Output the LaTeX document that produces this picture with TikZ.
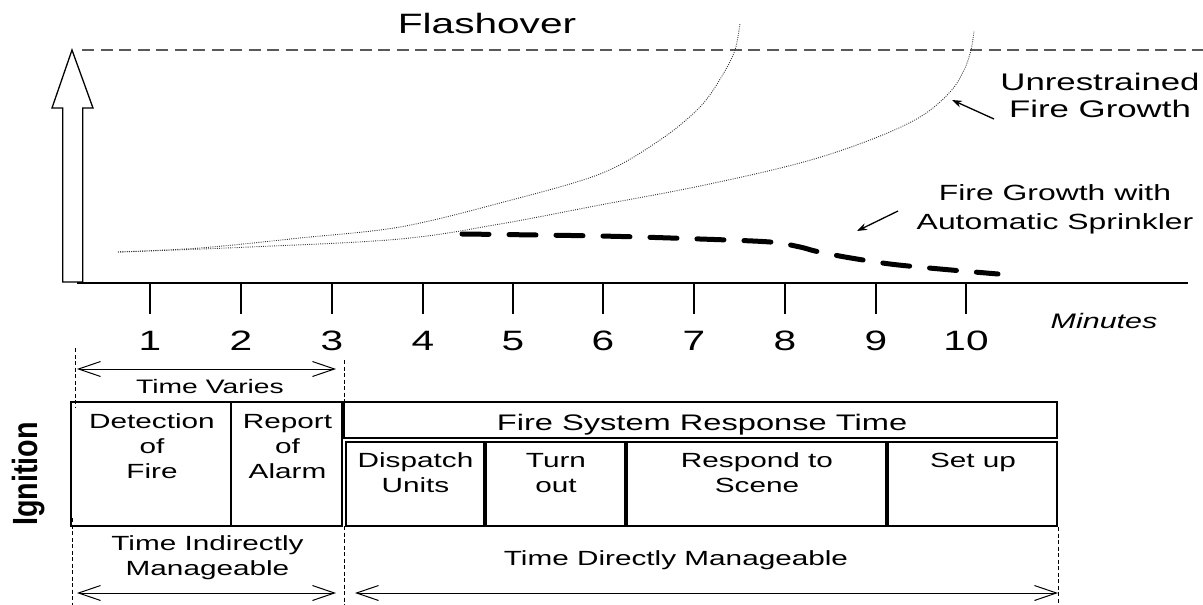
\documentclass[tikz,border=0pt]{standalone}
\usepackage{fontspec}
\setmainfont{Liberation Sans}[FakeStretch=1.45]
\newfontfamily\ignfont{Liberation Sans}[FakeStretch=0.82]
\usetikzlibrary{arrows.meta}
\begin{document}
\begin{tikzpicture}[x=1pt,y=-1pt,
  txt/.style={inner sep=0pt, align=center, anchor=base},
  fbig/.style={font=\fontsize{28}{32}\selectfont},
  fbox/.style={font=\fontsize{20.5}{25}\selectfont},
  boxline/.style={draw=black, line width=1.2pt},
  tickline/.style={line width=1.3pt},
  vdash/.style={line width=1pt, dash pattern=on 4pt off 2.5pt},
  dotcurve/.style={line width=0.9pt, draw=black!80, dash pattern=on 0.9pt off 1.3pt},
  sprink/.style={line width=5pt, line cap=round, dash pattern=on 27pt off 20pt},
  span/.style={line width=1pt, {Straight Barb[length=22pt,width=15pt]}-{Straight Barb[length=22pt,width=15pt]}},
  note/.style={line width=1.3pt, -{Stealth[length=10pt,width=7pt]}}]
\useasboundingbox (0,0) rectangle (1203,605);

% flashover level
\draw[line width=1.8pt, draw=black!65, dash pattern=on 12pt off 6.5pt] (82,50) -- (1203,50);
\node[txt, fbig] (flash) at (487,34) {Flashover};

% hollow arrow
\draw[line width=1.3pt, line join=miter] (62.7,282) -- (62.7,108) -- (52,108) -- (72,50) -- (93,108) -- (82.7,108) -- (82.7,282) -- cycle;

% axis and ticks
\draw[tickline] (77,283) -- (1188,283);
\foreach \x/\n in {150/1,241/2,332/3,423/4,513/5,603/6,694/7,785/8,876/9,966/10}{
  \draw[tickline] (\x,283) -- (\x,314);
  \node[txt, fbig] (n\n) at (\x,350) {\n};
}
\node[txt, font=\fontsize{21}{24}\selectfont\itshape] (minutes) at (1104,328) {Minutes};

% growth curves
\draw[dotcurve] plot[smooth, tension=0.55] coordinates {(118,252) (200,248) (300,238) (400,227) (500,203) (600,174) (660,140) (700,107) (722,76) (735,50) (740,23)};
\draw[dotcurve] plot[smooth, tension=0.6] coordinates {(118,252) (250,247) (400,239) (500,224) (600,205) (700,186) (800,163) (870,140) (920,117) (950,92) (964,70) (971,50) (974,31)};
\draw[sprink] plot[smooth, tension=0.5] coordinates {(462,234) (600,236) (700,239) (770,242) (800,247) (815,251) (845,257) (890,264) (940,269) (998,274)};

% annotations
\node[txt, font=\fontsize{24}{27}\selectfont] (unr) at (1100,117) {Unrestrained\\Fire Growth};
\node[txt, font=\fontsize{22}{29}\selectfont] (spr) at (1055,229) {Fire Growth with\\Automatic Sprinkler};
\coordinate (ua0) at (994,119); \coordinate (ua1) at (952,100);
\coordinate (sa0) at (898,211); \coordinate (sa1) at (857,231);
\draw[note] (ua0) -- (ua1);
\draw[note] (sa0) -- (sa1);

% time varies
\coordinate (tv0) at (77,369); \coordinate (tv1) at (336,369);
\draw[span] (tv0) -- (tv1);
\node[txt, font=\fontsize{19.5}{24}\selectfont] (varies) at (210,393) {Time Varies};

% dashed verticals
\draw[vdash] (75,348) -- (75,408);
\draw[vdash] (344.5,360) -- (344.5,402);
\draw[vdash] (344.5,526) -- (344.5,605);
\draw[vdash] (72.5,518) -- (72.5,605);
\draw[vdash] (1058.5,527) -- (1058.5,605);

% boxes
\draw[boxline] (71,402) rectangle (342,526);
\draw[boxline] (231,402) -- (231,526);
\draw[boxline] (344,402) rectangle (1057,438);
\draw[boxline] (346,442) rectangle (484,526);
\draw[boxline] (486,442) rectangle (625,526);
\draw[boxline] (627,442) rectangle (886,526);
\draw[boxline] (888,442) rectangle (1057,526);

\node[txt, fbox] (det) at (152,478) {Detection\\of\\Fire};
\node[txt, fbox] (rep) at (287.5,478) {Report\\of\\Alarm};
\node[txt, font=\fontsize{22.5}{27}\selectfont] (fsr) at (702,430) {Fire System Response Time};
\node[txt, fbox] (disp) at (415.5,492) {Dispatch\\Units};
\node[txt, fbox] (turn) at (556,492) {Turn\\out};
\node[txt, fbox] (resp) at (757,492) {Respond to\\Scene};
\node[txt, fbox] (setup) at (973,467) {Set up};

% bottom
\node[txt, fbox] (tim) at (207.5,575) {Time Indirectly\\Manageable};
\node[txt, fbox] (tdm) at (676,565) {Time Directly Manageable};
\coordinate (b0) at (77,593); \coordinate (b1) at (336,593);
\coordinate (b2) at (355,593); \coordinate (b3) at (1058,593);
\draw[span] (b0) -- (b1);
\draw[span] (b2) -- (b3);

\node[inner sep=0pt, rotate=90, font=\ignfont\bfseries\fontsize{35}{40}\selectfont] (ign) at (29,474) {Ignition};
\end{tikzpicture}
\end{document}
